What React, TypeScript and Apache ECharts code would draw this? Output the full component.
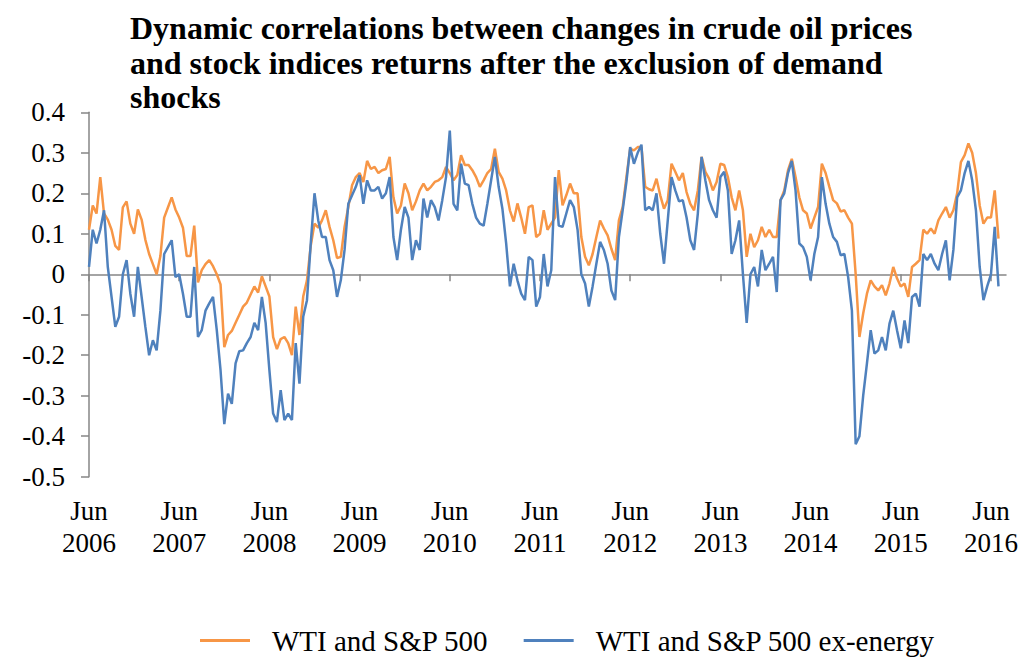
import React, { useEffect, useRef } from "react";
import * as echarts from "echarts";

// Half-monthly readings starting June 2006 (index 0 = Jun 2006, step = half a month)
const STEP_MONTHS = 0.5;

const wtiSP500: number[] = [
  0.11, 0.17, 0.15, 0.24, 0.15, 0.135, 0.11, 0.07, 0.06, 0.165, 0.18, 0.125, 0.10, 0.16, 0.135, 0.085, 0.05, 0.025, 0.0, 0.045, 0.14, 0.165, 0.19, 0.16,
  0.14, 0.115, 0.045, 0.045, 0.12, -0.02, 0.01, 0.025, 0.035, 0.02, 0.0, -0.025, -0.18, -0.15, -0.14, -0.12, -0.1, -0.08, -0.07, -0.05, -0.03, -0.045, -0.005, -0.03,
  -0.055, -0.155, -0.185, -0.16, -0.155, -0.17, -0.2, -0.08, -0.15, -0.055, -0.015, 0.07, 0.125, 0.115, 0.133, 0.158, 0.117, 0.084, 0.04, 0.043, 0.117, 0.166, 0.22, 0.24,
  0.25, 0.228, 0.28, 0.26, 0.265, 0.25, 0.257, 0.26, 0.29, 0.19, 0.15, 0.17, 0.224, 0.2, 0.158, 0.18, 0.207, 0.224, 0.207, 0.216, 0.228, 0.232, 0.24, 0.265,
  0.25, 0.232, 0.245, 0.294, 0.27, 0.27, 0.257, 0.24, 0.216, 0.232, 0.25, 0.26, 0.31, 0.253, 0.236, 0.207, 0.158, 0.13, 0.175, 0.14, 0.1, 0.166, 0.17, 0.092,
  0.1, 0.158, 0.11, 0.125, 0.14, 0.257, 0.17, 0.195, 0.224, 0.2, 0.2, 0.092, 0.043, 0.022, 0.05, 0.092, 0.133, 0.113, 0.096, 0.063, 0.035, 0.133, 0.166, 0.24,
  0.31, 0.306, 0.314, 0.314, 0.216, 0.21, 0.207, 0.236, 0.195, 0.162, 0.183, 0.273, 0.253, 0.232, 0.25, 0.203, 0.174, 0.158, 0.207, 0.29, 0.253, 0.236, 0.207, 0.228,
  0.273, 0.27, 0.24, 0.19, 0.158, 0.207, 0.158, 0.043, 0.1, 0.067, 0.084, 0.117, 0.092, 0.11, 0.092, 0.092, 0.183, 0.207, 0.257, 0.285, 0.24, 0.19, 0.158, 0.15,
  0.113, 0.14, 0.166, 0.273, 0.25, 0.216, 0.183, 0.175, 0.155, 0.158, 0.14, 0.125, 0.0, -0.155, -0.097, -0.048, -0.015, -0.03, -0.04, -0.027, -0.052, -0.023, 0.018, -0.01,
  -0.03, -0.023, -0.056, 0.018, 0.026, 0.035, 0.11, 0.1, 0.113, 0.1, 0.133, 0.15, 0.166, 0.14, 0.158, 0.2, 0.277, 0.294, 0.323, 0.3, 0.25, 0.17, 0.125, 0.14,
  0.14, 0.207, 0.088,
];

const wtiSP500ExEnergy: number[] = [
  0.018, 0.11, 0.076, 0.11, 0.158, 0.018, -0.056, -0.13, -0.105, 0.0, 0.035, -0.048, -0.105, 0.018, -0.056, -0.13, -0.2, -0.163, -0.188, -0.09, 0.05, 0.067, 0.084, -0.007,
  0.0, -0.048, -0.105, -0.105, 0.018, -0.155, -0.138, -0.09, -0.072, -0.056, -0.138, -0.237, -0.37, -0.295, -0.32, -0.22, -0.19, -0.188, -0.17, -0.155, -0.12, -0.138, -0.056, -0.12,
  -0.237, -0.344, -0.365, -0.286, -0.36, -0.344, -0.36, -0.17, -0.27, -0.105, -0.064, 0.076, 0.2, 0.133, 0.092, 0.092, 0.035, 0.01, -0.056, -0.015, 0.06, 0.174, 0.195, 0.216,
  0.245, 0.174, 0.232, 0.207, 0.207, 0.216, 0.187, 0.2, 0.24, 0.092, 0.035, 0.11, 0.166, 0.14, 0.035, 0.084, 0.06, 0.187, 0.14, 0.183, 0.166, 0.133, 0.183, 0.24,
  0.355, 0.174, 0.158, 0.273, 0.224, 0.22, 0.174, 0.14, 0.125, 0.12, 0.174, 0.232, 0.29, 0.216, 0.162, 0.076, -0.03, 0.026, -0.015, -0.048, -0.064, 0.043, 0.035, -0.08,
  -0.056, 0.05, -0.03, 0.01, 0.24, 0.12, 0.117, 0.15, 0.183, 0.166, 0.11, 0.0, -0.023, -0.08, -0.03, 0.026, 0.08, 0.06, 0.026, -0.04, -0.064, 0.092, 0.158, 0.228,
  0.314, 0.273, 0.3, 0.32, 0.158, 0.166, 0.158, 0.2, 0.1, 0.026, 0.133, 0.24, 0.207, 0.18, 0.183, 0.14, 0.084, 0.06, 0.15, 0.29, 0.232, 0.183, 0.158, 0.14,
  0.24, 0.253, 0.207, 0.05, 0.084, 0.133, 0.0, -0.12, 0.0, 0.018, -0.03, 0.06, 0.01, 0.026, 0.043, -0.044, 0.183, 0.2, 0.25, 0.28, 0.207, 0.076, 0.067, 0.043,
  -0.015, 0.05, 0.092, 0.24, 0.174, 0.125, 0.092, 0.08, 0.047, 0.05, -0.007, -0.09, -0.42, -0.4, -0.3, -0.22, -0.138, -0.196, -0.188, -0.155, -0.188, -0.122, -0.09, -0.138,
  -0.183, -0.114, -0.17, -0.056, -0.048, -0.08, 0.05, 0.035, 0.05, 0.026, 0.01, 0.05, 0.084, -0.015, 0.06, 0.19, 0.207, 0.25, 0.28, 0.232, 0.158, 0.018, -0.064, -0.03,
  0.0, 0.117, -0.03,
];

// Tick positions (months since Jun 2006) and their labels
const tickMonths = [0, 12, 24, 36, 48, 60, 72, 84, 96, 108, 120];
const tickLabels = [
  "Jun\n2006", "Jun\n2007", "Jun\n2008", "Jun\n2009", "Jun\n2010", "Jun\n2011",
  "Jun\n2012", "Jun\n2013", "Jun\n2014", "Jun\n2015", "Jun\n2016",
];

const seriesNames = ["WTI and S&P 500", "WTI and S&P 500 ex-energy"];
const titleText =
  "Dynamic correlations between changes in crude oil prices\nand stock indices returns after the exclusion of demand\nshocks";

const FONT = "'Liberation Serif', 'Times New Roman', serif";
const AXIS_COLOR = "#868686";

export default function App() {
  const ref = useRef<HTMLDivElement>(null);

  useEffect(() => {
    if (!ref.current) return;
    const chart = echarts.init(ref.current, undefined, { renderer: "svg" });
    const toPairs = (arr: number[]) => arr.map((v, i) => [i * STEP_MONTHS, v]);

    chart.setOption({
      animation: false,
      backgroundColor: "#ffffff",
      title: {
        text: titleText,
        left: 125,
        top: 6,
        textStyle: {
          fontFamily: FONT,
          fontWeight: "bold",
          fontSize: 32,
          lineHeight: 34.5,
          color: "#000",
        },
      },
      legend: {
        data: seriesNames,
        left: 195,
        top: 621,
        icon: "rect",
        itemWidth: 50,
        itemHeight: 3,
        itemGap: 35,
        textStyle: {
          fontFamily: FONT,
          fontSize: 29,
          color: "#000",
          padding: [0, 0, 0, 17],
        },
      },
      grid: { left: 89, right: 16, top: 112.3, bottom: 182.3 },
      xAxis: [
        {
          type: "value",
          min: 0,
          max: 122,
          interval: 12,
          position: "bottom",
          axisLine: { show: true, onZero: true, lineStyle: { color: AXIS_COLOR, width: 1.5 } },
          axisTick: { show: true, length: 7, customValues: tickMonths, lineStyle: { color: AXIS_COLOR, width: 1.5 } },
          axisLabel: { show: false },
          splitLine: { show: false },
        },
        {
          type: "value",
          min: 0,
          max: 122,
          interval: 12,
          position: "bottom",
          axisLine: { show: false, onZero: false },
          axisTick: { show: false },
          splitLine: { show: false },
          axisLabel: {
            show: true,
            customValues: tickMonths,
            margin: 18,
            fontFamily: FONT,
            fontSize: 27,
            lineHeight: 32,
            color: "#000",
            formatter: (v: number) => {
              const idx = tickMonths.indexOf(v);
              return idx >= 0 ? tickLabels[idx] : "";
            },
          },
        },
      ],
      yAxis: {
        type: "value",
        min: -0.5,
        max: 0.4,
        interval: 0.1,
        axisLine: { show: true, lineStyle: { color: AXIS_COLOR, width: 1.5 } },
        axisTick: { show: true, length: 8, lineStyle: { color: AXIS_COLOR, width: 1.5 } },
        splitLine: { show: false },
        axisLabel: {
          margin: 24,
          fontFamily: FONT,
          fontSize: 27,
          color: "#000",
          formatter: (v: number) => {
            const r = Math.round(v * 10) / 10;
            return r === 0 ? "0" : r.toFixed(1);
          },
        },
      },
      series: [
        {
          name: seriesNames[0],
          type: "line",
          xAxisIndex: 0,
          data: toPairs(wtiSP500),
          showSymbol: false,
          symbol: "none",
          lineStyle: { color: "#F79646", width: 2.5 },
          itemStyle: { color: "#F79646" },
        },
        {
          name: seriesNames[1],
          type: "line",
          xAxisIndex: 0,
          data: toPairs(wtiSP500ExEnergy),
          showSymbol: false,
          symbol: "none",
          lineStyle: { color: "#4F81BD", width: 2.5 },
          itemStyle: { color: "#4F81BD" },
        },
      ],
    });

    return () => chart.dispose();
  }, []);

  return (
    <div
      ref={ref}
      style={{ position: "absolute", left: 0, top: 0, width: 1022, height: 659, background: "#fff" }}
    />
  );
}
